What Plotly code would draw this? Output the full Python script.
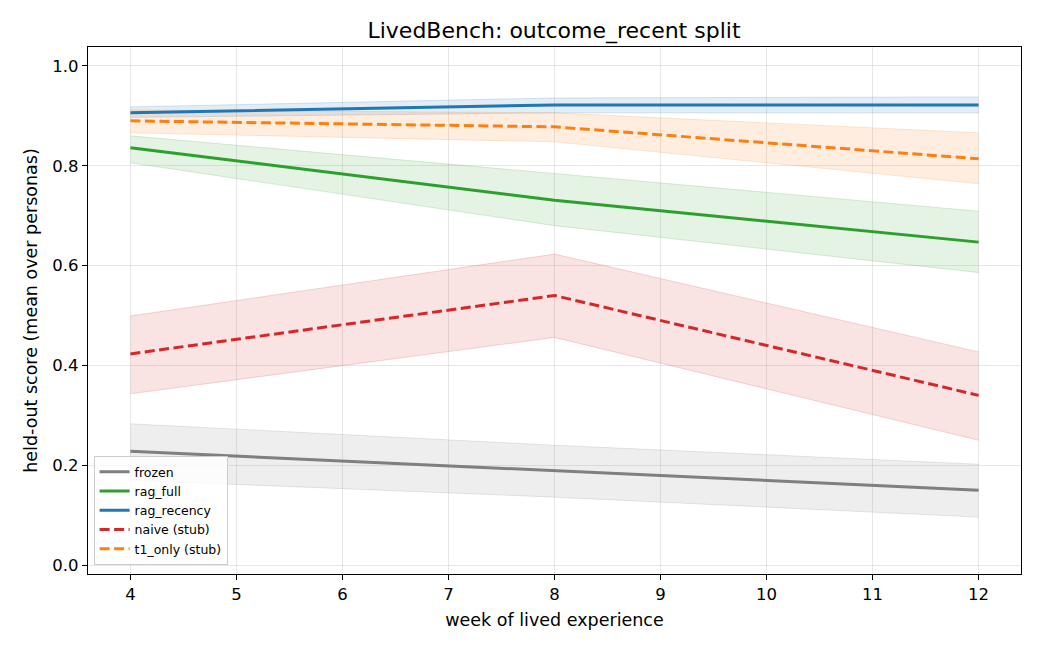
import plotly.graph_objects as go

weeks = [4, 8, 12]

series_names = ["frozen", "rag_full", "rag_recency", "naive (stub)", "t1_only (stub)"]
mean_frozen = [0.228, 0.189, 0.150]
low_frozen = [0.170, 0.136, 0.096]
high_frozen = [0.283, 0.240, 0.202]

mean_rag_full = [0.836, 0.731, 0.647]
low_rag_full = [0.806, 0.680, 0.586]
high_rag_full = [0.860, 0.784, 0.709]

mean_rag_recency = [0.906, 0.922, 0.922]
low_rag_recency = [0.897, 0.906, 0.906]
high_rag_recency = [0.918, 0.936, 0.938]

mean_naive = [0.423, 0.540, 0.340]
low_naive = [0.343, 0.456, 0.250]
high_naive = [0.499, 0.623, 0.427]

mean_t1 = [0.890, 0.878, 0.814]
low_t1 = [0.866, 0.848, 0.764]
high_t1 = [0.912, 0.906, 0.866]

colors = {
    "frozen": (127, 127, 127),
    "rag_full": (44, 160, 44),
    "rag_recency": (31, 119, 180),
    "naive (stub)": (214, 39, 40),
    "t1_only (stub)": (255, 127, 14),
}
dashes = {
    "frozen": "solid",
    "rag_full": "solid",
    "rag_recency": "solid",
    "naive (stub)": "10px,4.5px",
    "t1_only (stub)": "10px,4.5px",
}
data = {
    "frozen": (mean_frozen, low_frozen, high_frozen),
    "rag_full": (mean_rag_full, low_rag_full, high_rag_full),
    "rag_recency": (mean_rag_recency, low_rag_recency, high_rag_recency),
    "naive (stub)": (mean_naive, low_naive, high_naive),
    "t1_only (stub)": (mean_t1, low_t1, high_t1),
}

fig = go.Figure()
for name in series_names:
    m, lo, hi = data[name]
    r, g, b = colors[name]
    fig.add_trace(go.Scatter(x=weeks, y=lo, mode="lines",
                             line=dict(color=f"rgba({r},{g},{b},0.18)", width=1),
                             showlegend=False, hoverinfo="skip"))
    fig.add_trace(go.Scatter(x=weeks, y=hi, mode="lines", fill="tonexty",
                             fillcolor=f"rgba({r},{g},{b},0.13)",
                             line=dict(color=f"rgba({r},{g},{b},0.18)", width=1),
                             showlegend=False, hoverinfo="skip"))
for name in series_names:
    m, lo, hi = data[name]
    r, g, b = colors[name]
    fig.add_trace(go.Scatter(x=weeks, y=m, mode="lines", name=name,
                             line=dict(color=f"rgb({r},{g},{b})", width=3, dash=dashes[name])))

axis_common = dict(
    showline=True, linecolor="black", linewidth=1.2, mirror=True,
    ticks="outside", ticklen=5, tickcolor="black", tickwidth=1,
    showgrid=True, gridcolor="rgba(176,176,176,0.3)", gridwidth=1,
    zeroline=False,
    tickfont=dict(family="DejaVu Sans", size=16.5, color="black"),
)

fig.update_layout(
    width=1040, height=650,
    margin=dict(l=88, r=19, t=47, b=76),
    paper_bgcolor="white", plot_bgcolor="white",
    font=dict(family="DejaVu Sans", color="black"),
    title=dict(text="LivedBench: outcome_recent split", x=0.5327, xanchor="center",
               y=1 - 30 / 650, yanchor="middle", yref="container",
               font=dict(size=22, family="DejaVu Sans", color="black")),
    xaxis=dict(range=[3.6, 12.4], tickmode="array", tickvals=list(range(4, 13)),
               title=dict(text="week of lived experience", font=dict(size=17.5, family="DejaVu Sans"), standoff=10),
               **axis_common),
    yaxis=dict(range=[-0.018, 1.038], tickmode="array", tickvals=[0, 0.2, 0.4, 0.6, 0.8, 1.0],
               ticktext=["0.0", "0.2", "0.4", "0.6", "0.8", "1.0"],
               title=dict(text="held-out score (mean over personas)", font=dict(size=17.5, family="DejaVu Sans"), standoff=10),
               **axis_common),
    legend=dict(x=0.006, y=0.017, xanchor="left", yanchor="bottom",
                bgcolor="rgba(255,255,255,0.8)", bordercolor="#cccccc", borderwidth=1,
                font=dict(size=12.5, family="DejaVu Sans", color="black"),
                itemwidth=30, tracegroupgap=0, traceorder="normal"),
    showlegend=True,
)

fig.write_html("out.html")
